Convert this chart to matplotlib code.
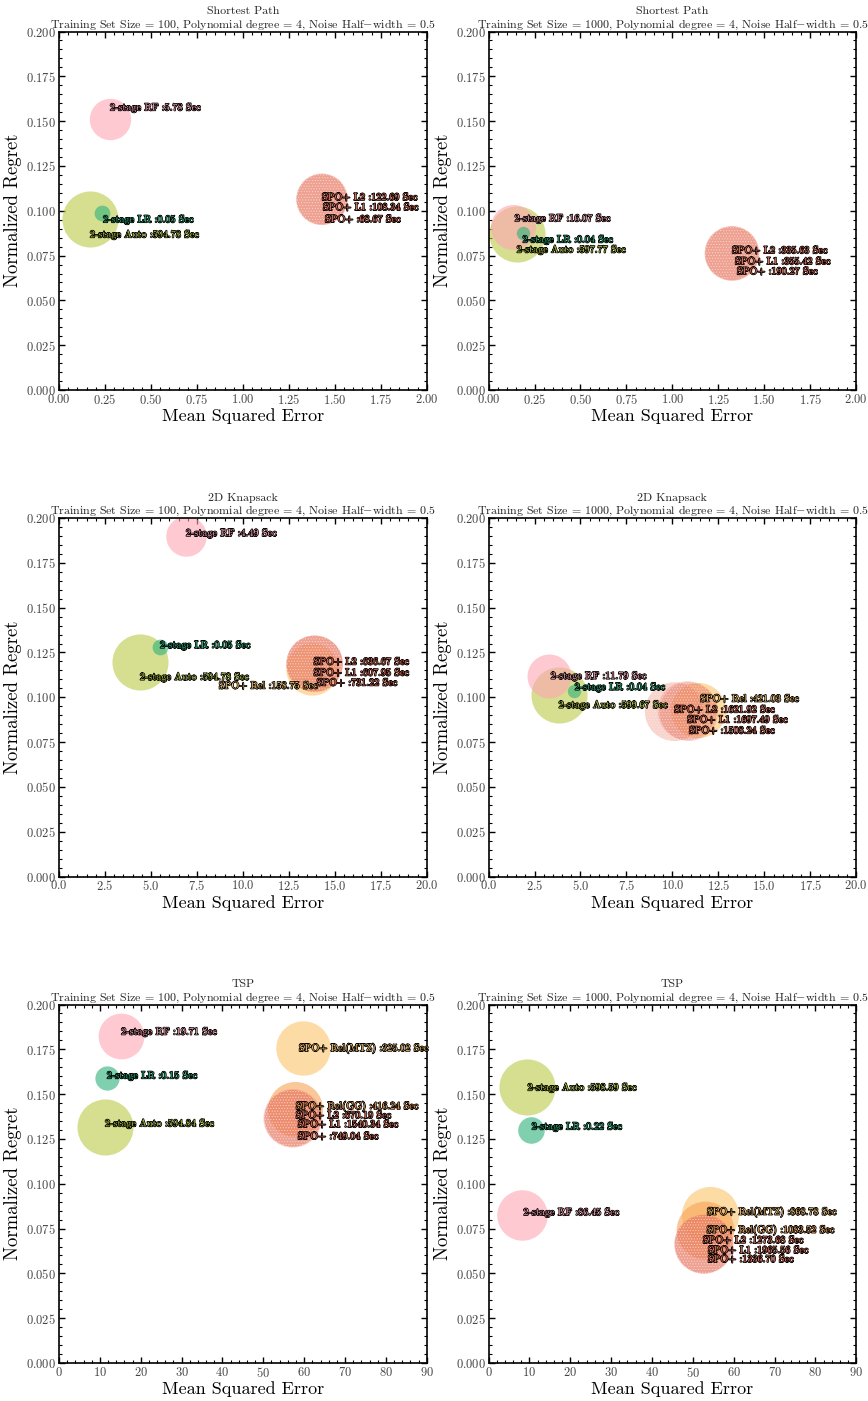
import numpy as np
import matplotlib
matplotlib.use('Agg')
import matplotlib.pyplot as plt
import matplotlib.patheffects as pe

plt.rcParams['font.family'] = 'serif'
plt.rcParams['font.serif'] = ['cmr10']
plt.rcParams['mathtext.fontset'] = 'cm'
plt.rcParams['axes.formatter.use_mathtext'] = True
plt.rcParams['hatch.linewidth'] = 0.5

############################### DATA ###############################
# Shortest path, n = 100
sp100_methods = ['2-stage Auto', '2-stage RF', '2-stage LR', 'SPO+', 'SPO+ L1', 'SPO+ L2']
sp100_mse = [0.168, 0.277, 0.234, 1.43, 1.43, 1.43]
sp100_regret = [0.0952, 0.151, 0.0986, 0.1064, 0.1064, 0.1064]
sp100_time = [594.78, 5.78, 0.05, 68.67, 108.34, 122.69]

# Shortest path, n = 1000
sp1000_methods = ['2-stage Auto', '2-stage RF', '2-stage LR', 'SPO+', 'SPO+ L1', 'SPO+ L2']
sp1000_mse = [0.153, 0.131, 0.185, 1.324, 1.324, 1.324]
sp1000_regret = [0.0868, 0.0908, 0.0874, 0.0762, 0.0762, 0.0762]
sp1000_time = [597.77, 16.07, 0.04, 190.27, 355.42, 335.63]

# 2D knapsack, n = 100
ks100_methods = ['2-stage Auto', '2-stage RF', '2-stage LR', 'SPO+ Rel', 'SPO+', 'SPO+ L1', 'SPO+ L2']
ks100_mse = [4.40, 6.90, 5.49, 13.75, 13.9, 13.9, 13.9]
ks100_regret = [0.1198, 0.190, 0.1281, 0.1159, 0.1187, 0.1187, 0.1187]
ks100_time = [594.78, 4.49, 0.05, 158.75, 731.22, 607.95, 636.67]

# 2D knapsack, n = 1000
ks1000_methods = ['2-stage Auto', '2-stage RF', '2-stage LR', 'SPO+ Rel', 'SPO+', 'SPO+ L1', 'SPO+ L2']
ks1000_mse = [3.81, 3.27, 4.63, 11.4, 10.9, 10.8, 10.1]
ks1000_regret = [0.1014, 0.112, 0.1036, 0.093, 0.092, 0.0925, 0.092]
ks1000_time = [599.67, 11.79, 0.04, 421.03, 1508.24, 1697.49, 1621.92]

# TSP, n = 100
tsp100_methods = ['2-stage Auto', '2-stage RF', '2-stage LR', 'SPO+ Rel(MTZ)', 'SPO+ Rel(GG)',
                  'SPO+', 'SPO+ L1', 'SPO+ L2']
tsp100_mse = [11.25, 15.2, 11.7, 59.7, 57.7, 57.2, 57.2, 57.2]
tsp100_regret = [0.1315, 0.1827, 0.1588, 0.1755, 0.1415, 0.1365, 0.1365, 0.1365]
tsp100_time = [594.84, 19.71, 0.15, 325.02, 416.24, 749.04, 1540.34, 670.19]

# TSP, n = 1000
tsp1000_methods = ['2-stage Auto', '2-stage RF', '2-stage LR', 'SPO+ Rel(MTZ)', 'SPO+ Rel(GG)',
                   'SPO+', 'SPO+ L1', 'SPO+ L2']
tsp1000_mse = [9.3, 8.3, 10.3, 54.2, 52.9, 52.7, 52.7, 52.7]
tsp1000_regret = [0.1538, 0.0825, 0.1298, 0.0825, 0.0741, 0.0663, 0.0663, 0.0663]
tsp1000_time = [598.59, 86.45, 0.22, 868.78, 1083.52, 1336.70, 1965.56, 1273.68]

########################## STYLE / LAYOUT ##########################
colors = {'2-stage Auto': '#b9ca44', '2-stage RF': '#ffa5b5', '2-stage LR': '#2bb17b',
          'SPO+ Rel': '#fdc46a', 'SPO+ Rel(MTZ)': '#fdc46a', 'SPO+ Rel(GG)': '#f7a354',
          'SPO+': '#e8715a', 'SPO+ L1': '#e8715a', 'SPO+ L2': '#e8715a'}

# label offsets from the bubble centre, in pixels
sp100_offs = [(0, -15), (0, 12), (1, -6), (3, -20), (1, -8), (0, 2)]
sp1000_offs = [(0, -15), (2, 9), (0, -6), (5, -18), (3, -8), (0, 3)]
ks100_offs = [(0, -15), (0, 3), (0, 2), (6, -17), (2, -19), (-1, -9), (-1, 2)]
ks1000_offs = [(0, -10), (2, 0), (1, 4), (2, 11), (0, -19), (0, -9), (0, 2)]
tsp100_offs = [(0, 4), (0, 4), (0, 3), (-4, 0), (1, 3), (5, -18), (5, -6), (3, 3)]
tsp1000_offs = [(1, 0), (1, 3), (1, 4), (-3, 3), (2, 0), (4, -15), (4, -6), (-1, 4)]

panels = [
    ('Shortest Path', 100, sp100_methods, sp100_mse, sp100_regret, sp100_time, sp100_offs, 2.0, 0.25),
    ('Shortest Path', 1000, sp1000_methods, sp1000_mse, sp1000_regret, sp1000_time, sp1000_offs, 2.0, 0.25),
    ('2D Knapsack', 100, ks100_methods, ks100_mse, ks100_regret, ks100_time, ks100_offs, 20.0, 2.5),
    ('2D Knapsack', 1000, ks1000_methods, ks1000_mse, ks1000_regret, ks1000_time, ks1000_offs, 20.0, 2.5),
    ('TSP', 100, tsp100_methods, tsp100_mse, tsp100_regret, tsp100_time, tsp100_offs, 90, 10),
    ('TSP', 1000, tsp1000_methods, tsp1000_mse, tsp1000_regret, tsp1000_time, tsp1000_offs, 90, 10),
]

def bubble_size(t):
    # marker area grows with log of the training time
    return 160 * (np.log(np.array(t)) + 3.8)

############################## PLOT #################################
fig, axs = plt.subplots(3, 2, figsize=(8.68, 14.01), dpi=100)
plt.subplots_adjust(left=0.068, right=0.9865, top=0.9775, bottom=0.0271, wspace=0.168, hspace=0.357)

for ax, (name, n, methods, mse, regret, times, offs, xmax, xstep) in zip(axs.flat, panels):
    sizes = bubble_size(times)
    for m, x, y, s, t, (dx, dy) in zip(methods, mse, regret, sizes, times, offs):
        c = colors[m]
        if m in ('SPO+', 'SPO+ L1', 'SPO+ L2'):
            ax.scatter(x, y, s=s, color=c, alpha=0.3, edgecolors='white', linewidths=0,
                       hatch='......', zorder=3)
        else:
            ax.scatter(x, y, s=s, color=c, alpha=0.6, linewidths=0, zorder=2)
        ha = 'right' if m == 'SPO+ Rel' and n == 100 else 'left'
        txt = ax.annotate('%s :%.2f Sec' % (m, t), (x, y), xytext=(dx, dy), textcoords='offset pixels',
                          ha=ha, va='center', fontsize=7.3, color=c, zorder=5, annotation_clip=False)
        txt.set_path_effects([pe.Stroke(linewidth=1.1, foreground='black'), pe.Normal()])

    ax.set_xlim(0, xmax)
    ax.set_ylim(0, 0.2)
    ax.set_xticks(np.arange(0, xmax + xstep / 2, xstep))
    ax.set_yticks(np.arange(0, 0.2001, 0.025))
    ax.minorticks_on()
    ax.tick_params(which='both', direction='in', top=True, right=True, labelsize=9,
                   labelcolor='#444444', pad=2)
    ax.tick_params(which='major', length=4, width=1)
    ax.tick_params(which='minor', length=2, width=0.8)
    for sp in ax.spines.values():
        sp.set_linewidth(1.2)
    ax.set_title('%s\nTraining Set Size = %d, Polynomial degree = 4, Noise Half$-$width = 0.5' % (name, n),
                 fontsize=8.6, pad=2, linespacing=1.1, color='#222222')
    ax.set_xlabel('Mean Squared Error', fontsize=13, labelpad=1)
    ax.set_ylabel('Normalized Regret', fontsize=13.5, labelpad=3)

plt.savefig('out.png', dpi=100)
